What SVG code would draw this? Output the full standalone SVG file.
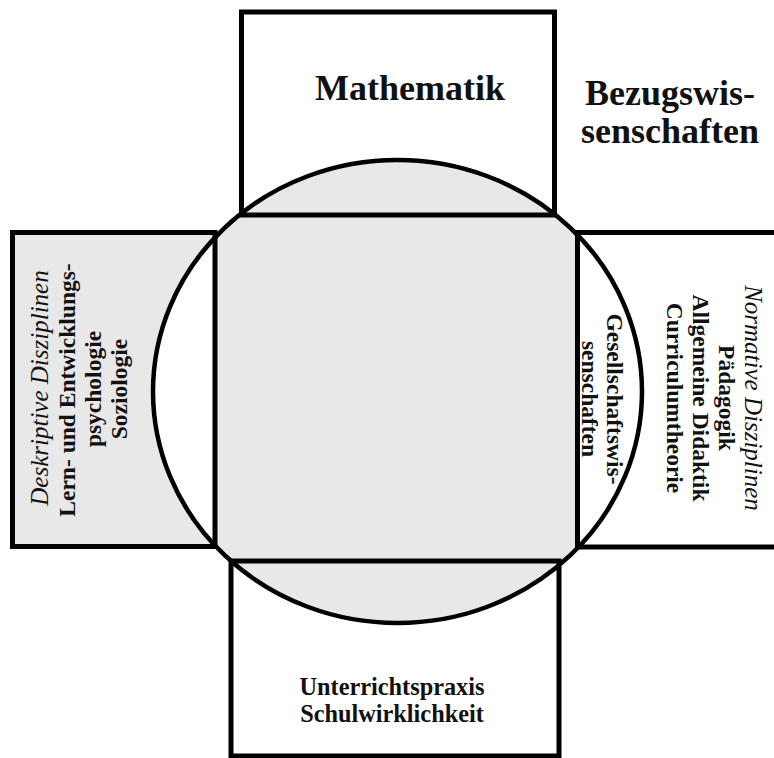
<svg xmlns="http://www.w3.org/2000/svg" width="774" height="758" viewBox="0 0 774 758">
<style>
  .box { fill: none; stroke: #000; stroke-width: 5; }
  .ring { fill: none; stroke: #000; stroke-width: 4.5; }
  text { font-family: "Liberation Serif", "Times New Roman", serif; fill: #111; text-anchor: middle; }
  .big { font-size: 36px; font-weight: bold; }
  .lbl { font-size: 23.5px; font-weight: bold; }
  .bot { font-size: 24.3px; font-weight: bold; }
  .it { font-size: 25px; font-style: italic; }
</style>
<defs>
  <clipPath id="clipL"><rect x="15" y="235" width="198" height="310"/></clipPath>
  <clipPath id="clipR"><rect x="580" y="235" width="200" height="310"/></clipPath>
</defs>
<rect width="774" height="758" fill="#fff"/>
<rect x="12.5" y="232.5" width="202.5" height="314" fill="#e8e8e8"/>
<ellipse cx="397.5" cy="391.5" rx="244.5" ry="231.5" fill="#e8e8e8"/>
<ellipse cx="397.5" cy="391.5" rx="244.5" ry="231.5" fill="#fff" clip-path="url(#clipL)"/>
<ellipse cx="397.5" cy="391.5" rx="244.5" ry="231.5" fill="#fff" clip-path="url(#clipR)"/>

<g id="connectors">
  <ellipse class="ring" cx="397.5" cy="391.5" rx="244.5" ry="231.5"/>
</g>

<g id="mathematik">
  <rect class="box" x="241.5" y="12" width="313" height="203"/>
  <text class="big" x="410" y="100">Mathematik</text>
</g>

<g id="bezugswissenschaften">
  <text class="big" x="670" y="105">Bezugswis-</text>
  <text class="big" x="670" y="143">senschaften</text>
</g>

<g id="deskriptive">
  <rect class="box" x="12.5" y="232.5" width="202.5" height="314"/>
  <g transform="translate(48,388) rotate(-90)"><text class="it" x="0" y="0">Deskriptive Disziplinen</text></g>
  <g transform="translate(75,390) rotate(-90)"><text class="lbl" x="0" y="0">Lern- und Entwicklungs-</text></g>
  <g transform="translate(101,389) rotate(-90)"><text class="lbl" x="0" y="0">psychologie</text></g>
  <g transform="translate(127,389) rotate(-90)"><text class="lbl" x="0" y="0">Soziologie</text></g>
</g>

<g id="normative">
  <rect class="box" x="577.5" y="232.5" width="220" height="314.5"/>
  <g transform="translate(745,398) rotate(90)"><text class="it" x="0" y="0">Normative Disziplinen</text></g>
  <g transform="translate(719,398) rotate(90)"><text class="lbl" x="0" y="0">Pädagogik</text></g>
  <g transform="translate(693,398) rotate(90)"><text class="lbl" x="0" y="0">Allgemeine Didaktik</text></g>
  <g transform="translate(667,398) rotate(90)"><text class="lbl" x="0" y="0">Curriculumtheorie</text></g>
</g>

<g id="gesellschaftswissenschaften">
  <g transform="translate(607,399) rotate(90)"><text class="lbl" x="0" y="0">Gesellschaftswis-</text></g>
  <g transform="translate(582,399) rotate(90)"><text class="lbl" x="0" y="0">senschaften</text></g>
</g>

<g id="unterrichtspraxis">
  <rect class="box" x="231" y="561" width="328" height="195"/>
  <text class="bot" x="392" y="695">Unterrichtspraxis</text>
  <text class="bot" x="392" y="722">Schulwirklichkeit</text>
</g>
</svg>
